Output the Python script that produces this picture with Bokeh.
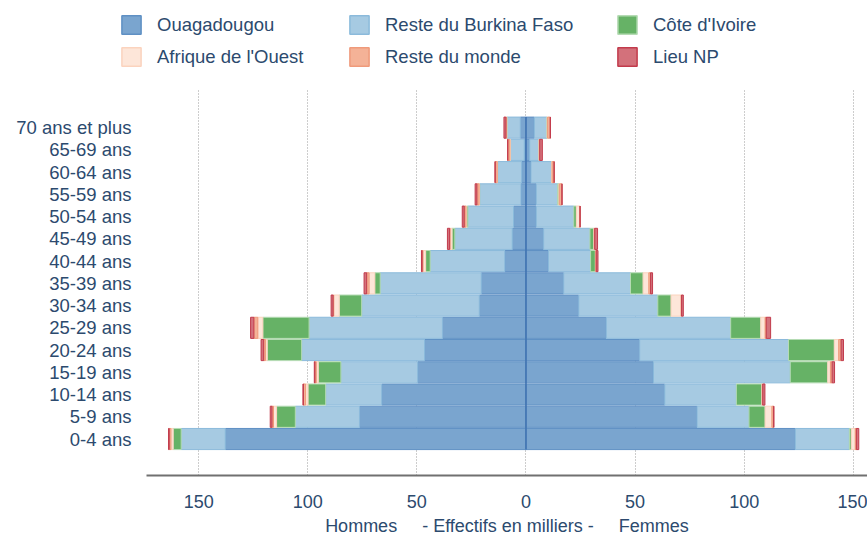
import numpy as np
from bokeh.plotting import figure
from bokeh.layouts import column
from bokeh.models import Range1d, FixedTicker, Legend, LegendItem, ColumnDataSource
from bokeh.embed import file_html
from bokeh.resources import INLINE

# ---------------- data (thousands) ----------------
age_groups = ["0-4 ans", "5-9 ans", "10-14 ans", "15-19 ans", "20-24 ans",
              "25-29 ans", "30-34 ans", "35-39 ans", "40-44 ans", "45-49 ans",
              "50-54 ans", "55-59 ans", "60-64 ans", "65-69 ans", "70 ans et plus"]

series_names = ["Ouagadougou", "Reste du Burkina Faso", "Côte d'Ivoire",
                "Afrique de l'Ouest", "Reste du monde", "Lieu NP"]

hommes_ouaga = [137.8, 76.3, 66.1, 49.6, 46.5, 38.3, 21.4, 20.5, 9.7, 6.3, 5.7, 2.3, 2.0, 0.8, 2.6]
hommes_reste_bf = [20.2, 29.4, 25.7, 35.2, 56.3, 61.1, 53.9, 46.3, 34.2, 26.3, 20.9, 18.9, 11.0, 6.4, 6.1]
hommes_ci = [3.7, 8.6, 8.1, 10.4, 15.8, 21.2, 10.3, 2.5, 2.1, 1.3, 0.6, 0.1, 0.1, 0.0, 0.1]
hommes_ao = [1.0, 1.4, 1.1, 0.9, 0.8, 2.3, 2.5, 2.6, 1.2, 0.9, 0.3, 0.2, 0.1, 0.2, 0.1]
hommes_rm = [0.8, 0.7, 1.0, 0.6, 0.8, 1.8, 0.3, 1.1, 0.4, 0.2, 0.8, 1.0, 0.9, 0.9, 0.3]
hommes_np = [0.3, 0.8, 0.2, 0.3, 1.2, 1.5, 0.9, 1.2, 0.3, 1.0, 0.9, 0.8, 0.1, 0.1, 0.9]

femmes_ouaga = [123.4, 78.4, 63.6, 58.4, 52.1, 36.8, 24.2, 17.3, 10.3, 8.1, 4.7, 4.7, 2.3, 1.7, 3.8]
femmes_reste_bf = [24.8, 23.8, 32.8, 62.7, 68.2, 57.0, 36.2, 30.6, 19.3, 21.2, 17.2, 9.8, 9.5, 4.3, 5.8]
femmes_ci = [0.9, 7.4, 11.7, 17.2, 21.0, 13.8, 6.1, 5.8, 2.2, 1.8, 1.2, 0.6, 0.0, 0.0, 0.1]
femmes_ao = [1.8, 3.1, 0.2, 1.2, 2.0, 2.0, 4.6, 2.6, 0.2, 0.2, 1.5, 0.2, 0.2, 0.1, 0.2]
femmes_rm = [0.5, 0.8, 0.2, 0.8, 1.1, 0.5, 0.2, 0.8, 0.2, 0.2, 0.2, 1.2, 0.9, 0.2, 1.2]
femmes_np = [1.1, 0.1, 1.0, 1.1, 1.1, 2.0, 0.8, 0.9, 0.8, 1.3, 0.0, 0.0, 0.0, 1.2, 0.1]

x_ticks = [-150, -100, -50, 0, 50, 100, 150]
x_tick_labels = ["150", "100", "50", "0", "50", "100", "150"]

# ---------------- styles ----------------
fills = ["#7aa5cf", "#a6cae2", "#66b266", "#fde6d9", "#f4b297", "#d3717b"]
lines = ["#5f90c4", "#8bbadb", "#b5dbb4", "#fbd3be", "#ef9a7b", "#c23b4c"]
TEXT = "#2c4a6e"
FONT = "Liberation Sans"

hommes = [hommes_ouaga, hommes_reste_bf, hommes_ci, hommes_ao, hommes_rm, hommes_np]
femmes = [femmes_ouaga, femmes_reste_bf, femmes_ci, femmes_ao, femmes_rm, femmes_np]

y = np.arange(len(age_groups))
BAR_H = 0.95

X_RANGE = (-173.9, 156.5)
Y_RANGE = (-1.64, 15.76)


def no_frame_align(fig):
    if "frame_align" in fig.properties():
        fig.frame_align = False


def clean(fig):
    fig.outline_line_color = None
    fig.background_fill_color = "white"
    fig.border_fill_color = "white"


# ---------------- main pyramid ----------------
p = figure(width=867, height=450,
           x_range=Range1d(*X_RANGE), y_range=Range1d(*Y_RANGE),
           output_backend="svg", toolbar_location=None,
           min_border_left=146, min_border_right=0, min_border_top=0,
           min_border_bottom=62)
no_frame_align(p)
clean(p)

p.ygrid.visible = False
p.xgrid.ticker = FixedTicker(ticks=x_ticks)
p.xgrid.grid_line_color = "#9a9a9a"
p.xgrid.grid_line_dash = "1 2"
p.xgrid.grid_line_width = 1

for sign, data in [(-1, hommes), (1, femmes)]:
    cum = np.zeros(len(age_groups))
    for k, vals in enumerate(data):
        v = np.array(vals, dtype=float)
        left = sign * cum
        right = sign * (cum + v)
        cum = cum + v
        src = ColumnDataSource(dict(y=y, left=left, right=right))
        p.hbar(y="y", left="left", right="right", height=BAR_H, source=src,
               fill_color=fills[k], line_color=lines[k], line_width=1)

# centre line
p.segment(x0=[0], y0=[y.min() - BAR_H / 2], x1=[0], y1=[y.max() + BAR_H / 2],
          line_color="#3f72b0", line_width=1.5)

p.xaxis.ticker = FixedTicker(ticks=x_ticks)
p.xaxis.major_label_overrides = {t: l for t, l in zip(x_ticks, x_tick_labels)}
p.xaxis.axis_line_color = "#707070"
p.xaxis.axis_line_width = 2
p.xaxis.major_tick_line_color = None
p.xaxis.minor_tick_line_color = None
p.xaxis.major_label_standoff = 13
p.xaxis.major_label_text_font = FONT
p.xaxis.major_label_text_font_size = "18px"
p.xaxis.major_label_text_color = TEXT
p.xaxis.axis_label = "Hommes \u00a0 \u00a0 - Effectifs en milliers - \u00a0 \u00a0 Femmes"
p.xaxis.axis_label_text_font = FONT
p.xaxis.axis_label_text_font_size = "18px"
p.xaxis.axis_label_text_font_style = "normal"
p.xaxis.axis_label_text_color = TEXT
p.xaxis.axis_label_standoff = 5

p.yaxis.ticker = FixedTicker(ticks=list(y))
p.yaxis.major_label_overrides = {int(i): lab for i, lab in zip(y, age_groups)}
p.yaxis.axis_line_color = None
p.yaxis.major_tick_line_color = None
p.yaxis.minor_tick_line_color = None
p.yaxis.major_label_standoff = 9
p.yaxis.major_label_text_font = FONT
p.yaxis.major_label_text_font_size = "18.5px"
p.yaxis.major_label_text_color = TEXT

# ---------------- legend strip ----------------
# swatches come from renderers of the women's series that are shown muted
# (fully transparent), so only the legend entries are visible in this strip
lg = figure(width=867, height=88, x_range=Range1d(*X_RANGE), y_range=Range1d(*Y_RANGE),
            output_backend="svg", toolbar_location=None,
            min_border=0, x_axis_type=None, y_axis_type=None)
no_frame_align(lg)
clean(lg)
legend_renderers = []
for k, vals in enumerate(femmes):
    src = ColumnDataSource(dict(y=y, left=np.zeros(len(y)), right=np.array(vals, dtype=float)))
    r = lg.hbar(y="y", left="left", right="right", height=BAR_H, source=src,
                fill_color=fills[k], line_color=lines[k], line_width=1.5,
                muted_alpha=0)
    r.muted = True
    legend_renderers.append(r)

columns = [(0, 3), (1, 4), (2, 5)]
col_x = [119, 347, 615]
for (a, b), cx in zip(columns, col_x):
    leg = Legend(items=[LegendItem(label=series_names[a], renderers=[legend_renderers[a]]),
                        LegendItem(label=series_names[b], renderers=[legend_renderers[b]])],
                 location=(cx, 20), orientation="vertical")
    leg.glyph_width = 24
    leg.glyph_height = 23
    leg.label_height = 23
    leg.label_standoff = 14
    leg.spacing = 9
    leg.padding = 0
    leg.margin = 0
    leg.border_line_color = None
    leg.background_fill_alpha = 0
    leg.label_text_font = FONT
    leg.label_text_font_size = "18.5px"
    leg.label_text_color = TEXT
    lg.add_layout(leg)

layout = column(lg, p, spacing=0)
open("out.html", "w").write(file_html(layout, INLINE))
